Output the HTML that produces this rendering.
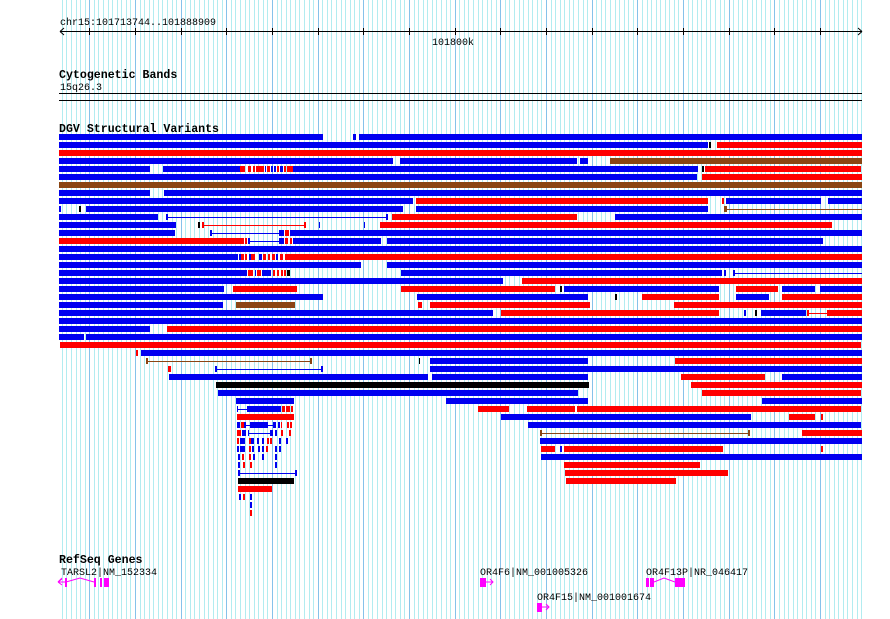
<!DOCTYPE html>
<html><head><meta charset="utf-8"><style>
html,body{margin:0;padding:0;background:#fff;}
svg{display:block;}
text{font-family:"Liberation Mono",monospace;}
</style></head><body>
<svg id="s" width="890" height="619" xmlns="http://www.w3.org/2000/svg">
<g id="grid"></g>
<g id="bars"></g>
<text x="60" y="25" font-size="10">chr15:101713744..101888909</text>
<text x="432" y="45" font-size="10">101800k</text>
<text x="59" y="78" font-size="11.6" font-weight="bold">Cytogenetic Bands</text>
<text x="60" y="90" font-size="10">15q26.3</text>
<rect x="59" y="93" width="803" height="1" fill="#000"/>
<rect x="59" y="100" width="803" height="1" fill="#000"/>
<text x="59" y="132" font-size="11.6" font-weight="bold">DGV Structural Variants</text>
<text x="59" y="563" font-size="11.6" font-weight="bold">RefSeq Genes</text>
<text x="61" y="575" font-size="10">TARSL2|NM_152334</text>
<text x="480" y="575" font-size="10">OR4F6|NM_001005326</text>
<text x="646" y="575" font-size="10">OR4F13P|NR_046417</text>
<text x="537" y="600" font-size="10">OR4F15|NM_001001674</text>
<g fill="#ff00ff" stroke="#ff00ff">
<polyline points="58,582 62,578 M58,582" fill="none"/>
<path d="M58,582 L62,579 M58,582 L62,585 M58,582 L66,582 L80,578 L94,582" fill="none" stroke-width="1"/>
<rect x="65" y="578" width="2" height="9" stroke="none"/>
<rect x="94" y="578" width="2" height="9" stroke="none"/>
<rect x="100" y="578" width="2" height="9" stroke="none"/>
<rect x="104" y="578" width="5" height="9" stroke="none"/>
<rect x="480" y="578" width="6" height="9" stroke="none"/>
<path d="M486,582 L493,582 M490,579 L493,582 L490,585" fill="none"/>
<rect x="537" y="603" width="5" height="9" stroke="none"/>
<path d="M542,607 L549,607 M546,604 L549,607 L546,610" fill="none"/>
<rect x="646" y="578" width="3" height="9" stroke="none"/>
<rect x="650" y="578" width="4" height="9" stroke="none"/>
<path d="M654,582 L664,578 L675,582" fill="none"/>
<rect x="675" y="578" width="10" height="9" stroke="none"/>
</g>
</svg>
<script>
var NS="http://www.w3.org/2000/svg";
function el(p,t,a){var e=document.createElementNS(NS,t);for(var k in a)e.setAttribute(k,a[k]);p.appendChild(e);return e;}
var g=document.getElementById('grid');
for(var i=-6;i<=172;i++){var x=89.33+i*4.567;if(x<59||x>862)continue;
 var maj=(i%10===0);
 el(g,'rect',{x:Math.round(x),y:0,width:1,height:619,fill:maj?'#86c2ea':'#b2ecf0'});}
// ruler
var b=document.getElementById('bars');
el(b,'rect',{x:60,y:31,width:802,height:1,fill:'#000'});
el(b,'path',{d:'M60,31.5 L64,28 M60,31.5 L64,35 M862,31.5 L858,28 M862,31.5 L858,35',stroke:'#000',fill:'none'});
for(var i=0;i<=17;i++){var x=Math.round(89.33+i*45.67);if(x>860)break;el(b,'rect',{x:x,y:28,width:1,height:7,fill:'#000'});}
var B='#0000f0',R='#ff0000',N='#8b4513',K='#000';
var rows=[
[134,[[59,323,B],[353,356,B],[359,862,B]]],
[142,[[59,708,B],[709,711,K],[717,862,R]]],
[150,[[59,862,R]]],
[158,[[59,393,B],[400,577,B],[580,588,B],[610,862,N]]],
[166,[[59,150,B],[163,240,B],[240,245,R],[248,251,R],[253,255,R],[256,264,R],[265,266,B],[267,270,R],[271,273,B],[274,276,B],[277,279,R],[280,283,B],[284,286,R],[287,293,R],[293,698,B],[702,704,K],[705,861,R]]],
[174,[[59,697,B],[702,862,R]]],
[182,[[59,862,N]]],
[190,[[59,150,B],[164,862,B]]],
[198,[[59,413,B],[416,708,R],[722,724,R],[726,821,B],[828,862,B]]],
[206,[[59,61,B],[79,81,K],[86,403,B],[416,708,B],[724,727,N]],[[727,862,N,0]]],
[214,[[59,158,B],[392,577,R],[615,862,B]],[[166,387,B,1]]],
[222,[[59,176,B],[198,200,K],[319,320,B],[364,365,B],[380,832,R]],[[202,305,R,1]]],
[230,[[59,175,B],[280,284,B],[285,289,R],[290,862,B]],[[210,280,B,1]]],
[238,[[59,244,R],[245,247,R],[280,284,B],[285,288,R],[290,292,R],[293,381,B],[387,823,B]],[[248,280,B,1]]],
[246,[[59,862,B]]],
[254,[[59,238,B],[239,241,B],[241,244,R],[245,247,R],[249,251,B],[251,255,R],[259,262,B],[263,266,R],[268,270,R],[272,275,R],[276,278,B],[280,283,R],[285,862,R]]],
[262,[[59,361,B],[387,862,B]]],
[270,[[59,247,B],[248,253,R],[255,256,B],[257,261,R],[262,271,B],[273,275,R],[277,279,R],[281,283,R],[284,286,R],[287,290,K],[401,722,B],[724,726,B],[733,735,B]],[[735,862,B,0]]],
[278,[[59,503,B],[522,862,R]]],
[286,[[59,224,B],[233,297,R],[401,555,R],[560,562,K],[564,719,B],[736,778,R],[782,815,B],[820,862,B]]],
[294,[[59,323,B],[417,588,B],[615,617,K],[642,719,R],[736,769,B],[782,862,R]]],
[302,[[59,223,B],[236,295,N],[418,422,R],[430,590,R],[674,862,R]]],
[310,[[59,493,B],[501,719,R],[744,746,B],[755,757,K],[761,806,B],[807,809,R],[827,862,R]],[[809,827,R,0]]],
[318,[[59,862,B]]],
[326,[[59,150,B],[167,862,R]]],
[334,[[59,84,B],[86,862,B]]],
[342,[[60,861,R]]],
[350,[[136,138,R],[141,862,B]]],
[358,[[419,420,K],[430,588,B],[675,862,R]],[[146,311,N,1]]],
[366,[[168,171,R],[430,862,B]],[[215,322,B,1]]],
[374,[[169,428,B],[432,588,B],[681,765,R],[782,862,B]]],
[382,[[216,589,K],[691,862,R]]],
[390,[[218,578,B],[702,861,R]]],
[398,[[236,294,B],[446,588,B],[762,862,B]]],
[406,[[237,238,B],[247,281,B],[282,285,R],[286,290,R],[291,293,R],[478,509,R],[527,575,R],[577,861,R]],[[238,247,B,0]]],
[414,[[237,294,R],[501,751,B],[789,815,R],[821,823,R]]],
[422,[[237,240,B],[241,244,R],[244,246,B],[250,268,B],[273,276,B],[278,280,B],[281,282,R],[287,289,R],[290,292,R],[528,861,B]],[[246,250,B,0],[268,273,B,0]]],
[430,[[237,241,R],[242,246,B],[248,249,B],[270,273,B],[275,277,B],[281,283,R],[289,291,R],[802,862,R]],[[249,270,B,0],[540,749,N,1]]],
[438,[[237,239,R],[240,245,B],[249,251,R],[251,254,B],[257,259,B],[262,264,B],[267,269,R],[270,272,R],[279,281,B],[286,288,B],[540,862,B]]],
[446,[[237,239,B],[240,245,B],[249,251,R],[252,254,B],[258,260,B],[262,264,B],[266,268,R],[275,277,B],[279,281,B],[541,555,R],[560,562,B],[564,723,R],[821,823,R]]],
[454,[[238,240,B],[242,244,R],[249,251,R],[253,255,B],[262,264,B],[275,277,B],[541,862,B]]],
[462,[[238,240,B],[243,245,R],[250,252,R],[275,277,B],[564,700,R]]],
[470,[[565,728,R]],[[238,296,B,1]]],
[478,[[238,294,K],[566,676,R]]],
[486,[[238,272,R]]],
[494,[[239,241,B],[243,245,R],[250,252,B]]],
[502,[[250,252,B]]],
[510,[[250,252,R]]]
];
rows.forEach(function(r){var y=r[0];
 r[1].forEach(function(s){el(b,'rect',{x:s[0],y:y,width:Math.max(1,s[1]-s[0]),height:6,fill:s[2]});});
 if(r[2])r[2].forEach(function(l){el(b,'rect',{x:l[0],y:y+3,width:l[1]-l[0],height:1,fill:l[2]});
  if(l[3]){el(b,'rect',{x:l[0],y:y,width:2,height:6,fill:l[2]});el(b,'rect',{x:l[1]-1,y:y,width:2,height:6,fill:l[2]});}});
});
</script>
</body></html>
